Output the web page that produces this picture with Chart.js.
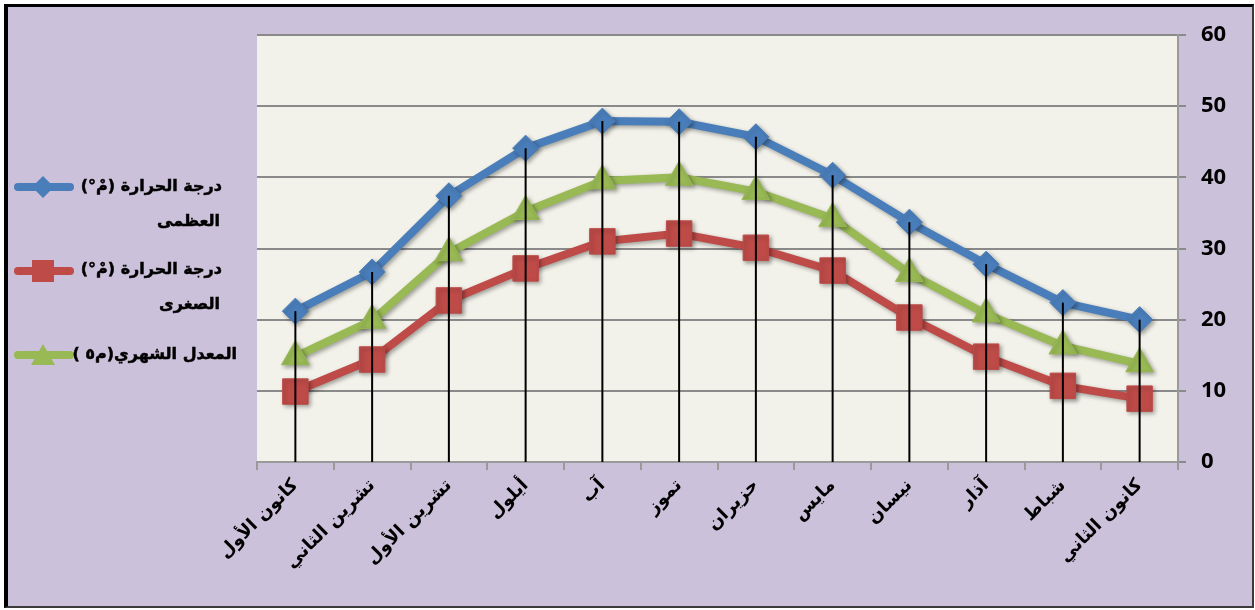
<!DOCTYPE html>
<html><head><meta charset="utf-8">
<script src="https://cdn.jsdelivr.net/npm/chart.js@4"></script>
<style>
html,body{margin:0;padding:0;background:#fff;}
#wrap{position:relative;width:1255px;height:610px;overflow:hidden;}
#frame{position:absolute;left:4px;top:4px;width:1250px;height:604px;box-sizing:border-box;border-left:4px solid #000;border-top:3px solid #000;border-right:2px solid #3a3a3a;border-bottom:2px solid #3a3a3a;background:#CCC1DA;}
#c{position:absolute;left:0;top:0;}
.lg{position:absolute;font:bold 16px "DejaVu Sans";direction:rtl;white-space:nowrap;color:#000;line-height:20px;-webkit-text-stroke:0.5px #000;}
.ic{position:absolute;left:14px;}
</style></head>
<body>
<div id="wrap">
<div id="frame"></div>
<canvas id="c" width="1255" height="610"></canvas>
<div id="legend"></div>
</div>
<script>
// ---- data ----
const months = ['كانون الثاني','شباط','آذار','نيسان','مايس','حزيران','تموز','آب','أيلول','تشرين الأول','تشرين الثاني','كانون الأول'];
const maxTemp  = [20.0, 22.4, 27.8, 33.7, 40.3, 45.7, 47.8, 47.9, 44.1, 37.4, 26.7, 21.2];
const minTemp  = [8.9, 10.7, 14.8, 20.3, 26.9, 30.1, 32.1, 31.0, 27.2, 22.7, 14.4, 9.9];
const meanTemp = [13.8, 16.3, 20.8, 26.5, 34.2, 38.0, 40.0, 39.5, 35.2, 29.4, 19.9, 14.8];
const seriesNames = ['درجة الحرارة (مْ°) العظمى','درجة الحرارة (مْ°) الصغرى','المعدل الشهري(م٥ )'];
const yTicks = [0,10,20,30,40,50,60];

const blue='#4A7EBB', red='#BE4B48', green='#98B954';

const plotBg = {
  id:'plotBg',
  beforeDraw(chart){
    const {ctx, chartArea:a} = chart;
    ctx.save(); ctx.fillStyle='#F2F2EA';
    ctx.fillRect(a.left, a.top, a.right-a.left, a.bottom-a.top);
    ctx.restore();
  }
};
const shadow = {
  id:'shadow',
  beforeDatasetDraw(chart){
    const ctx=chart.ctx; ctx.save();
    ctx.shadowColor='rgba(0,0,0,0.35)'; ctx.shadowBlur=4; ctx.shadowOffsetX=2; ctx.shadowOffsetY=2;
  },
  afterDatasetDraw(chart){ chart.ctx.restore(); }
};
const dropLines = {
  id:'dropLines',
  afterDatasetsDraw(chart){
    const {ctx, scales:{x,y}} = chart;
    ctx.save(); ctx.strokeStyle='#000'; ctx.lineWidth=2;
    months.forEach((m,i)=>{
      const top = Math.max(...chart.data.datasets.map(d=>d.data[i]));
      const px = x.getPixelForValue(i);
      ctx.beginPath(); ctx.moveTo(px, y.getPixelForValue(top)); ctx.lineTo(px, y.getPixelForValue(0)); ctx.stroke();
    });
    ctx.restore();
  }
};

new Chart(document.getElementById('c'), {
  type:'line',
  data:{
    labels: months,
    datasets:[
      {label:seriesNames[0], data:maxTemp, borderColor:blue, backgroundColor:blue, borderWidth:8, pointStyle:'rectRot', pointRadius:13, pointBorderWidth:1, tension:0},
      {label:seriesNames[1], data:minTemp, borderColor:red, backgroundColor:red, borderWidth:8, pointStyle:'rect', pointRadius:18, pointBorderWidth:1, tension:0},
      {label:seriesNames[2], data:meanTemp, borderColor:green, backgroundColor:green, borderWidth:8, pointStyle:'triangle', pointRadius:16, pointBorderWidth:1, tension:0}
    ]
  },
  options:{
    responsive:false, animation:false, devicePixelRatio:1, events:[],
    layout:{padding:{left:257, top:35, right:0, bottom:0}},
    plugins:{legend:{display:false}, tooltip:{enabled:false}},
    scales:{
      x:{
        reverse:true, offset:true,
        grid:{offset:true, drawOnChartArea:false, drawTicks:true, tickLength:8, color:'#9a9a9a', lineWidth:2},
        border:{color:'#9a9a9a', width:2},
        ticks:{color:'#000', font:{family:'DejaVu Sans', weight:'bold', size:18}, minRotation:45, maxRotation:45, padding:5, autoSkip:false},
        afterFit(s){ s.height = 148; }
      },
      y:{
        position:'right', min:0, max:60,
        afterBuildTicks(s){ s.ticks = yTicks.map(v=>({value:v})); },
        grid:{color:'#8a8a8a', lineWidth:2, tickLength:8},
        border:{color:'#9a9a9a', width:2},
        ticks:{color:'#000', font:{family:'Open Sans', weight:'bold', size:22}, padding:15},
        afterFit(s){ s.width = 77; }
      }
    }
  },
  plugins:[plotBg, shadow, dropLines]
});

// ---- HTML legend ----
const lg = document.getElementById('legend');
const items = [
  {color:blue, marker:'diamond', y:187, lines:[['درجة الحرارة (مْ°)',222,187],['العظمى',220,222]]},
  {color:red, marker:'square', y:271, lines:[['درجة الحرارة (مْ°)',222,270],['الصغرى',220,305]]},
  {color:green, marker:'triangle', y:355, lines:[['المعدل الشهري(م٥ )',237,355]]}
];
items.forEach(it=>{
  let mk='';
  if(it.marker==='diamond') mk=`<polygon points="29,4 40,15 29,26 18,15" fill="${it.color}"/>`;
  if(it.marker==='square') mk=`<rect x="18" y="4" width="22" height="22" fill="${it.color}"/>`;
  if(it.marker==='triangle') mk=`<polygon points="29,4 41,25 17,25" fill="${it.color}"/>`;
  const d=document.createElement('div'); d.className='ic'; d.style.top=(it.y-15)+'px';
  d.innerHTML=`<svg width="60" height="30"><line x1="4" y1="15" x2="56" y2="15" stroke="${it.color}" stroke-width="8" stroke-linecap="round"/>${mk}</svg>`;
  lg.appendChild(d);
  it.lines.forEach(([t,r,cy])=>{
    const s=document.createElement('div'); s.className='lg'; s.textContent=t;
    s.style.right=(1255-r)+'px'; s.style.top=(cy-11)+'px'; lg.appendChild(s);
  });
});
</script>
</body></html>
